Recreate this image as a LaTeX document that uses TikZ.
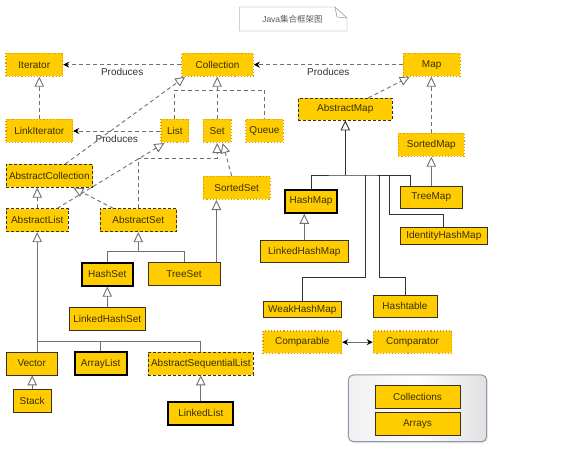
\documentclass[tikz,border=0pt]{standalone}
\usepackage{fontspec}
\setmainfont{Liberation Sans}
\newfontfamily\cjkfont{Noto Sans CJK SC}
\usepackage{tikz}
\usetikzlibrary{arrows.meta,calc,positioning,shadows}
\definecolor{boxfill}{HTML}{FFCC00}
\definecolor{boxtext}{HTML}{3A3000}
\definecolor{dotline}{HTML}{D89A00}
\definecolor{boxline}{HTML}{3C3020}
\definecolor{linkgray}{HTML}{707070}
\definecolor{darkgray}{HTML}{333333}
\definecolor{panelline}{HTML}{8A9AB0}

\tikzset{
  box/.style={draw=boxline,fill=boxfill,text=boxtext,inner sep=0pt,minimum height=23pt},
  iface/.style={box,draw=dotline,dotted,line width=1.1pt},
  abstr/.style={box,dash pattern=on 3pt off 2pt,line width=0.8pt},
  concrete/.style={box,line width=0.8pt},
  core/.style={box,draw=black,line width=2pt},
  realizes/.style={draw=linkgray,dash pattern=on 4pt off 3pt,line width=0.9pt},
  extends/.style={draw=linkgray,line width=0.9pt},
  hollow/.style={-{Triangle[open,fill=white,length=10pt,width=9.5pt]}},
  produces/.style={realizes,-{Stealth[length=6pt,width=6pt,color=black]}},
  label/.style={text=darkgray,inner sep=3.5pt}
}

\begin{document}
\begin{tikzpicture}[x=1pt,y=-1pt,>=Stealth]
  \fill[white] (0,0) rectangle (574,457);
  \draw[gray] (239.5,7) -- (335,7) -- (347,18) -- (347,31) -- (239.5,31) -- cycle;
  \draw[gray] (335,7) -- (337,17) -- (347,18);
  \node[text=darkgray!80,font=\fontsize{8.5}{10}\selectfont] (title) at (292.5,19.5) {Java\cjkfont 集合框架图};

  \node[iface,minimum width=56.7pt] (iter) at (34.3,64.7) {Iterator};
  \node[iface,minimum width=71.6pt] (coll) at (217.5,64.7) {Collection};
  \node[iface,minimum width=56.7pt] (map) at (431.7,64.7) {Map};
  \node[iface,minimum width=66.7pt] (linkiter) at (39.3,131) {LinkIterator};
  \node[iface,minimum width=27.7pt] (list) at (174.8,131) {List};
  \node[iface,minimum width=27.7pt] (set) at (217.2,131) {Set};
  \node[iface,minimum width=37.6pt] (queue) at (264.5,131) {Queue};
  \node[abstr,minimum width=94pt,minimum height=21.7pt] (absmap) at (345.3,109.2) {AbstractMap};
  \node[iface,minimum width=66pt] (sortedmap) at (431.3,144.7) {SortedMap};
  \node[abstr,minimum width=86.7pt] (abscoll) at (49.3,175.8) {AbstractCollection};
  \node[abstr,minimum width=62.3pt] (abslist) at (37.2,220.3) {AbstractList};
  \node[abstr,minimum width=76.7pt] (absset) at (138.3,220.3) {AbstractSet};
  \node[iface,minimum width=66.7pt] (sortedset) at (236.7,188) {SortedSet};

  \node[core,minimum width=52pt] (hashmap) at (311,201.3) {HashMap};
  \node[concrete,minimum width=61.3pt,minimum height=22pt] (treemap) at (431.3,197) {TreeMap};
  \node[concrete,minimum width=86.3pt,minimum height=17pt] (identmap) at (443.8,235.5) {IdentityHashMap};
  \node[concrete,minimum width=87.3pt,minimum height=22pt] (linkedhashmap) at (304.3,251.7) {LinkedHashMap};
  \node[concrete,minimum width=78.7pt,minimum height=16pt] (weakmap) at (302.3,309.7) {WeakHashMap};
  \node[concrete,minimum width=64pt,minimum height=22.7pt] (hashtable) at (405,306.3) {Hashtable};
  \node[iface,minimum width=78.7pt,minimum height=22.3pt] (comparable) at (302.3,342.2) {Comparable};
  \node[iface,minimum width=78.4pt,minimum height=22.3pt] (comparator) at (412.5,342.2) {Comparator};

  \node[core,minimum width=51.3pt] (hashset) at (107.3,274.2) {HashSet};
  \node[concrete,minimum width=72pt] (treeset) at (184,274.2) {TreeSet};
  \node[concrete,minimum width=76.7pt] (linkedhashset) at (107.3,318.5) {LinkedHashSet};
  \node[concrete,minimum width=51.3pt] (vector) at (31.7,363.5) {Vector};
  \node[core,minimum width=52pt] (arraylist) at (100.7,363.5) {ArrayList};
  \node[abstr,minimum width=105pt] (absseqlist) at (200.8,363.5) {AbstractSequentialList};
  \node[concrete,minimum width=37.7pt] (stack) at (32.2,401.3) {Stack};
  \node[core,minimum width=65pt] (linkedlist) at (200.8,413.3) {LinkedList};

  \node[draw=panelline,line width=1pt,rounded corners=5pt,left color=gray!12,right color=gray!24,middle color=white,
        minimum width=138.4pt,minimum height=66.7pt,drop shadow={opacity=0.2,shadow xshift=1pt,shadow yshift=-1.5pt}] (panel) at (417.5,408.3) {};
  \node[concrete,minimum width=85pt,minimum height=22.7pt] (collections) at (417.5,397) {Collections};
  \node[concrete,minimum width=85pt,minimum height=22.7pt] (arrays) at (417.5,423.7) {Arrays};

  \draw[produces] (coll.west) -- (iter.east) node[midway,below,label] {Produces};
  \draw[produces] (map.west) -- (coll.east) node[midway,below,label] {Produces};
  \draw[produces] (list.west) -- (linkiter.east) node[midway,below,label] {Produces};

  \draw[realizes,hollow] (linkiter.north) -- (linkiter.north |- iter.south);
  \coordinate (cbar) at (217.3,90);
  \draw[realizes] (list.north) |- (cbar) -| (queue.north);
  \draw[realizes,hollow] (set.north) -- (set.north |- coll.south);
  \draw[realizes,hollow] ([xshift=16pt]abscoll.north) -- ([xshift=4pt]coll.south west);
  \draw[realizes,hollow] (abslist.north) -- (abslist.north |- abscoll.south);
  \draw[realizes,hollow] ([xshift=-25pt]absset.north) -- ([xshift=24pt]abscoll.south);
  \draw[realizes,hollow] ([xshift=20pt]abslist.north) -- ([xshift=4pt]list.south west);
  \coordinate (sbar) at (217.2,158.3);
  \draw[realizes,hollow] (absset.north) |- (sbar) -- (set.south);
  \draw[realizes,hollow] ([xshift=-5pt]sortedset.north) -- ([xshift=5.5pt]set.south);

  \draw[realizes,hollow] ([xshift=23pt]absmap.north) -- ([xshift=7pt]map.south west);
  \draw[realizes,hollow] (sortedmap.north) -- (sortedmap.north |- map.south);
  \draw[extends,hollow] (treemap.north) -- (treemap.north |- sortedmap.south);

  \coordinate (mbar) at (345.3,175);
  \draw[extends,draw=darkgray,hollow] (mbar) -- (absmap.south);
  \draw[extends,draw=darkgray] (hashmap.north) |- (mbar) -| ([xshift=10pt]treemap.north west);
  \coordinate (wk) at (365,277.7);
  \coordinate (ht) at (379,277.7);
  \coordinate (id) at (389,214);
  \draw[extends,draw=darkgray] (wk |- mbar) -- (wk) -| (weakmap.north);
  \draw[extends,draw=darkgray] (ht |- mbar) -- (ht) -| (hashtable.north);
  \draw[extends,draw=darkgray] (id |- mbar) -- (id) -| (identmap.north);
  \draw[extends,hollow] (linkedhashmap.north) -- (linkedhashmap.north |- hashmap.south);
  \draw[extends,{Stealth[length=6pt,width=6pt,color=black]}-{Stealth[length=6pt,width=6pt,color=black]}] (comparable.east) -- (comparator.west);

  \draw[extends,hollow] ([xshift=-4pt]treeset.north east) -- ([xshift=-4pt]treeset.north east |- sortedset.south);
  \coordinate (hsbar) at (138.3,251.7);
  \draw[extends,hollow] (hsbar) -- (absset.south);
  \draw[extends] (hashset.north) |- (hsbar) -| (treeset.north);
  \draw[extends,hollow] (linkedhashset.north) -- (hashset.south);

  \coordinate (lbar) at (37.2,341.7);
  \draw[extends,hollow] (vector.north -| lbar) -- (abslist.south);
  \draw[extends] (lbar) -| (absseqlist.north);
  \draw[extends] (arraylist.north) -- (arraylist.north |- lbar);
  \draw[extends,hollow] (stack.north) -- (stack.north |- vector.south);
  \draw[extends,hollow] (linkedlist.north) -- (absseqlist.south);
\end{tikzpicture}
\end{document}
